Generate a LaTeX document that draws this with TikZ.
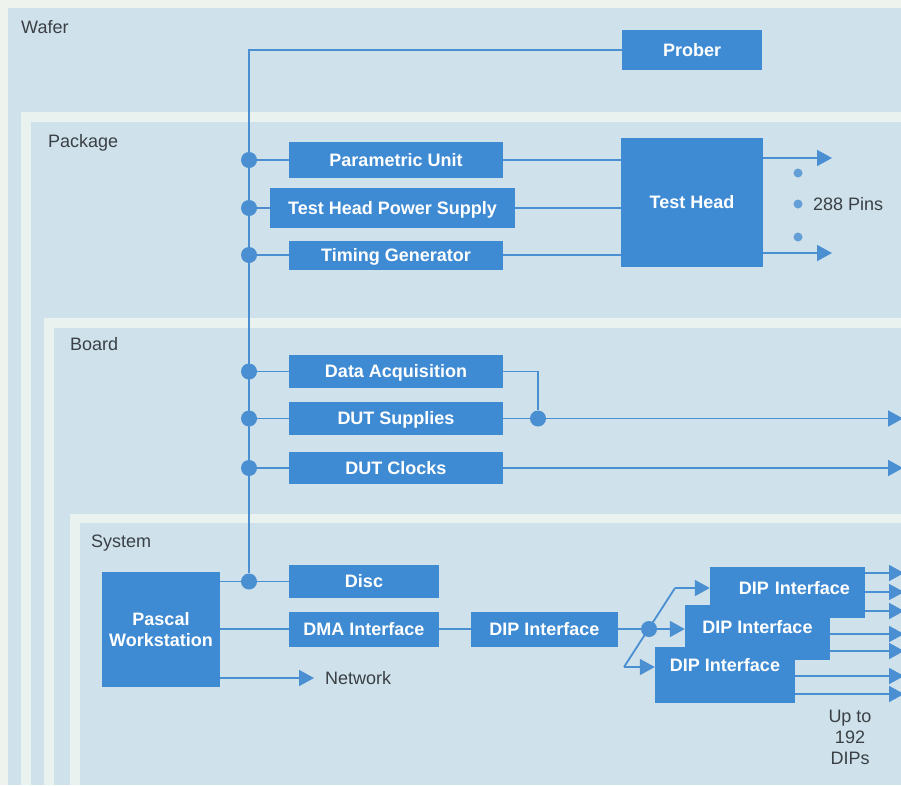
\documentclass[tikz,border=0pt]{standalone}
\usepackage{fontspec}
\setmainfont{Liberation Sans}
\usetikzlibrary{arrows.meta}
\definecolor{bgpale}{HTML}{EEF3EE}
\definecolor{panel}{HTML}{CFE1EA}
\definecolor{stripe}{HTML}{EAF2F0}
\definecolor{boxblue}{HTML}{3F8BD3}
\definecolor{lineblue}{HTML}{4A8FD2}
\definecolor{labelgray}{HTML}{3A4046}
\begin{document}
\begin{tikzpicture}[x=1pt,y=-1pt,
  blk/.style={fill=boxblue, text=white, font=\bfseries\fontsize{18}{21}\selectfont, inner sep=0pt, text height=12.9pt, text depth=0pt},
  blkm/.style={fill=boxblue, text=white, font=\bfseries\fontsize{18}{21}\selectfont, inner sep=0pt, align=center},
  lbl/.style={text=labelgray, font=\fontsize{18}{21}\selectfont, inner sep=0pt, anchor=base west},
  jdot/.style={circle, fill=lineblue, minimum size=16pt, inner sep=0pt},
  pdot/.style={circle, fill=lineblue!80!panel, minimum size=9pt, inner sep=0pt},
  wire/.style={draw=lineblue, line width=1.8pt},
  arr/.style={wire, -{Triangle[length=15pt,width=16pt]}},
]
\useasboundingbox (0,0) rectangle (901,785);
% nested panels
\fill[bgpale] (0,0) rectangle (901,785);
\fill[panel] (8,8) rectangle (901,785);
\fill[stripe] (21,112) rectangle (901,785);
\fill[panel] (31,122) rectangle (901,785);
\fill[stripe] (44,318) rectangle (901,785);
\fill[panel] (54,328) rectangle (901,785);
\fill[stripe] (70,514) rectangle (901,785);
\fill[panel] (80,523) rectangle (901,785);
% level labels
\node[lbl] (wafer) at (21,33.5) {Wafer};
\node[lbl] (package) at (48,147) {Package};
\node[lbl] (board) at (70,350) {Board};
\node[lbl] (system) at (91,547) {System};
% blocks
\node[blk, minimum width=140pt, minimum height=40pt] (prober) at (692,50) {Prober};
\node[blk, minimum width=214pt, minimum height=36pt] (param) at (396,160) {Parametric Unit};
\node[blk, minimum width=245pt, minimum height=40pt] (thps) at (392.5,208) {Test Head Power Supply};
\node[blk, minimum width=214pt, minimum height=29pt] (timing) at (396,255) {Timing Generator};
\node[blk, minimum width=142pt, minimum height=129pt] (testhead) at (692,202.5) {Test Head};
\node[blk, minimum width=214pt, minimum height=33pt] (dataacq) at (396,371.5) {Data Acquisition};
\node[blk, minimum width=214pt, minimum height=33pt] (dutsup) at (396,418.5) {DUT Supplies};
\node[blk, minimum width=214pt, minimum height=32pt] (dutclk) at (396,468) {DUT Clocks};
\node[blk, minimum width=150pt, minimum height=33pt] (disc) at (364,581.5) {Disc};
\node[blk, minimum width=150pt, minimum height=35pt] (dma) at (364,629) {DMA Interface};
\node[blkm, minimum width=118pt, minimum height=115pt] (pascal) at (161,629.5) {Pascal\\Workstation};
\node[blk, minimum width=147pt, minimum height=35pt] (dip1) at (544.5,629) {DIP Interface};
\node[blk, minimum height=51pt, text width=125pt, align=right, inner xsep=15pt, text depth=9pt] (dipa) at (787.5,592.5) {DIP Interface};
\node[blk, minimum width=145pt, minimum height=55pt, text depth=11pt] (dipb) at (757.5,632.5) {DIP Interface};
\node[blk, minimum width=140pt, minimum height=56pt, text depth=20pt] (dipc) at (725,675) {DIP Interface};
% junction dots on the bus
\node[jdot] (jparam) at (249,160) {};
\node[jdot] (jthps) at (249,208) {};
\node[jdot] (jtiming) at (249,255) {};
\node[jdot] (jdata) at (249,371.5) {};
\node[jdot] (jsup) at (249,418.5) {};
\node[jdot] (jclk) at (249,468) {};
\node[jdot] (jdisc) at (249,581.5) {};
\node[jdot] (jbranch) at (538,418.5) {};
\node[jdot] (jdip) at (649,629) {};
% coordinates
\coordinate (bustop) at (249,50);
\coordinate (pinA) at (832,158);
\coordinate (pinB) at (832,253);
\coordinate (dacorner) at (538,371.5);
\coordinate (supout) at (903,418.5);
\coordinate (clkout) at (903,468);
\coordinate (netend) at (314,678);
\coordinate (diagtop) at (675,588);
\coordinate (diagbot) at (624,667);
\coordinate (oa1) at (904,573);
\coordinate (oa2) at (904,592);
\coordinate (oa3) at (904,611);
\coordinate (ob1) at (904,634);
\coordinate (ob2) at (904,651);
\coordinate (oc1) at (904,676);
\coordinate (oc2) at (904,694);
% bus
\draw[wire] (prober.west) -- (bustop) -- (jdisc);
\draw[wire] (jparam) -- (param.west);
\draw[wire] (jthps) -- (thps.west);
\draw[wire] (jtiming) -- (timing.west);
\draw[wire] (jdata) -- (dataacq.west);
\draw[wire] (jsup) -- (dutsup.west);
\draw[wire] (jclk) -- (dutclk.west);
\draw[wire] (pascal.east |- jdisc) -- (jdisc) -- (disc.west);
% package level
\draw[wire] (param.east) -- (param.east -| testhead.west);
\draw[wire] (thps.east) -- (thps.east -| testhead.west);
\draw[wire] (timing.east) -- (timing.east -| testhead.west);
\draw[arr] (testhead.east |- pinA) -- (pinA);
\draw[arr] (testhead.east |- pinB) -- (pinB);
\node[pdot] (pd1) at (798,173) {};
\node[pdot] (pd2) at (798,204) {};
\node[pdot] (pd3) at (798,237) {};
\node[lbl] (pins) at (813,210.5) {288 Pins};
% board level
\draw[wire] (dataacq.east) -- (dacorner) -- (jbranch);
\draw[arr] (dutsup.east) -- (supout);
\draw[arr] (dutclk.east) -- (clkout);
% system level
\draw[wire] (pascal.east |- dma) -- (dma.west);
\draw[arr] (pascal.east |- netend) -- (netend);
\node[lbl] (network) at (325,684.5) {Network};
\draw[wire] (dma.east) -- (dip1.west);
\draw[wire] (dip1.east) -- (jdip);
\draw[arr] (jdip) -- (jdip -| dipb.west);
\draw[wire] (diagbot) -- (diagtop);
\draw[arr] (diagtop) -- (diagtop -| dipa.west);
\draw[arr] (diagbot) -- (diagbot -| dipc.west);
\draw[arr] (oa1 -| dipa.east) -- (oa1);
\draw[arr] (oa2 -| dipa.east) -- (oa2);
\draw[arr] (oa3 -| dipa.east) -- (oa3);
\draw[arr] (ob1 -| dipb.east) -- (ob1);
\draw[arr] (ob2 -| dipb.east) -- (ob2);
\draw[arr] (oc1 -| dipc.east) -- (oc1);
\draw[arr] (oc2 -| dipc.east) -- (oc2);
\node[text=labelgray, font=\fontsize{18}{21}\selectfont, inner sep=0pt, align=center] (upto) at (850,737) {Up to\\192\\DIPs};
\end{tikzpicture}
\end{document}
